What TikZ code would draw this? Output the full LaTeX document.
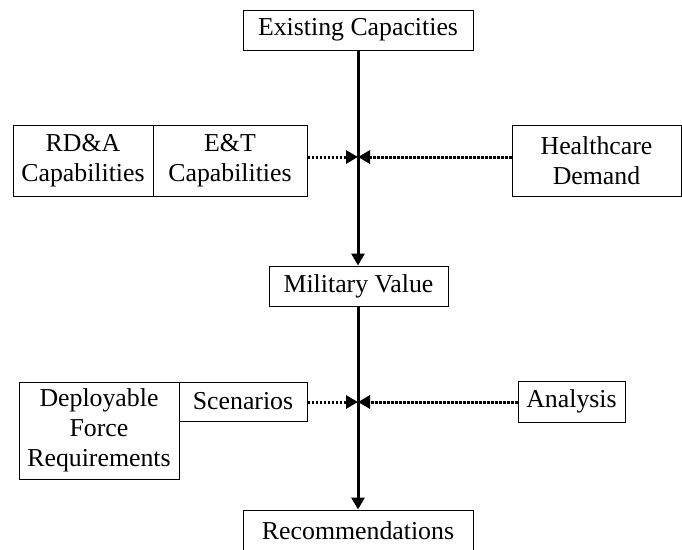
\documentclass[tikz,border=0pt]{standalone}
\usepackage{fontspec}
\setmainfont{Liberation Serif}
\usetikzlibrary{arrows.meta}
\begin{document}
\begin{tikzpicture}[x=1pt,y=-1pt,
  box/.style={draw=black,line width=1pt,rectangle,inner sep=0pt,align=center,
    font=\fontsize{25.8}{30}\selectfont},
  mainarrow/.style={line width=3pt,-{Triangle[length=12pt,width=13pt]}},
  dotarrow/.style={line width=3pt,dash pattern=on 2.5pt off 1.5pt,
    -{Triangle[length=12pt,width=13pt]}}]
\useasboundingbox (0,0) rectangle (682,549);
\clip (0,0) rectangle (682,549);
\node[box,minimum width=230pt,minimum height=40pt] (exist) at (358,30) {Existing Capacities};
\node[box,minimum width=140pt,minimum height=71pt] (rda) at (83,160.5) {RD\&A\\Capabilities};
\node[box,minimum width=154pt,minimum height=71pt] (et) at (230,160.5) {E\&T\\Capabilities};
\node[box,minimum width=169pt,minimum height=71pt] (hc) at (596.5,160.5) {Healthcare\\Demand};
\node[box,minimum width=179pt,minimum height=40pt] (mil) at (358.5,286) {Military Value};
\node[box,minimum width=160pt,minimum height=97pt] (dep) at (99,430.5) {Deployable\\Force\\Requirements};
\node[box,minimum width=128pt,minimum height=39pt] (scen) at (243,401.5) {Scenarios};
\node[box,minimum width=107pt,minimum height=41pt] (ana) at (571.5,401.5) {Analysis};
\node[box,minimum width=230pt,minimum height=42pt] (rec) at (358,531) {Recommendations};
\coordinate (j1) at (358,157);
\coordinate (j2) at (358,402);
\draw[mainarrow] (exist.south -| j1) -- (mil.north -| j1);
\draw[mainarrow] (mil.south -| j1) -- (rec.north -| j1);
\draw[dotarrow] (et.east |- j1) -- (j1);
\draw[dotarrow] (hc.west |- j1) -- (j1);
\draw[dotarrow] (scen.east |- j2) -- (j2);
\draw[dotarrow] (ana.west |- j2) -- (j2);
\end{tikzpicture}
\end{document}
